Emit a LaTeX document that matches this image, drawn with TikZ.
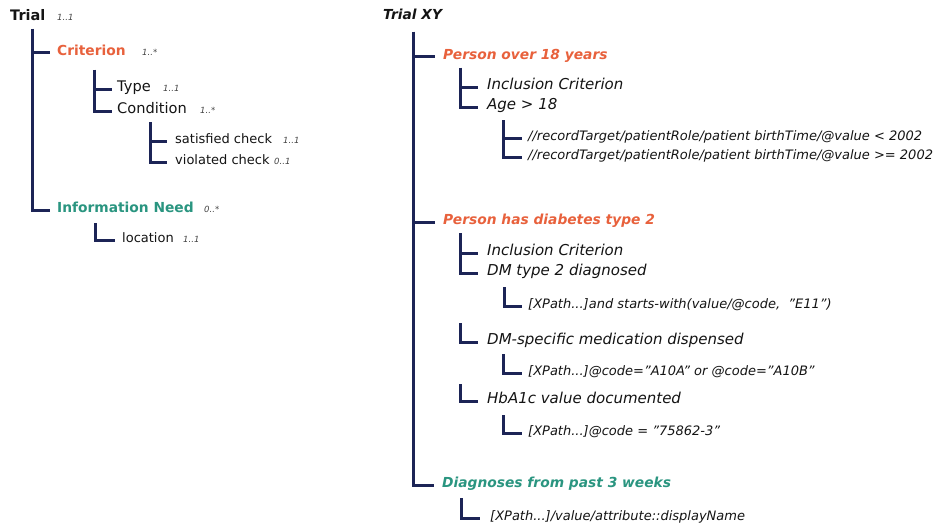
\documentclass[tikz,border=0pt]{standalone}
\usepackage{fontspec}
\setmainfont{DejaVu Sans}
\definecolor{navy}{HTML}{1C2456}
\definecolor{critc}{HTML}{E8613C}
\definecolor{infoc}{HTML}{2A9580}
\definecolor{txtc}{HTML}{141414}
\begin{document}
\begin{tikzpicture}[x=1pt,y=-1pt,
  lbl/.style={inner sep=0pt,anchor=mid west,text=txtc},
  mult/.style={inner sep=0pt,anchor=base west,text=txtc!80,font=\fontsize{8.5}{10}\selectfont\itshape},
  conn/.style={draw=navy,line width=3pt,line join=miter,shorten >=7pt},
  fbig/.style={font=\fontsize{14.5}{17}\selectfont\bfseries},
  fcrit/.style={font=\fontsize{13.8}{16}\selectfont\bfseries},
  fmid/.style={font=\fontsize{14.6}{17}\selectfont},
  fsmall/.style={font=\fontsize{13}{15}\selectfont},
  rbig/.style={font=\fontsize{13.8}{16}\selectfont\bfseries\itshape},
  rcrit/.style={font=\fontsize{13.8}{16}\selectfont\bfseries\itshape},
  rmid/.style={font=\fontsize{15}{17}\selectfont\itshape},
  rsmall/.style={font=\fontsize{13}{15}\selectfont\itshape}]
\path[use as bounding box,fill=white] (0,0) rectangle (950,527);

% ---------------- left tree ----------------
\node[lbl,fbig] (trial) at (10,18) {Trial};
\node[mult] (mtrial) at (trial.base -| 57,0) {1..1};
\coordinate (t0) at (32,29);
\node[lbl,fcrit,text=critc] (crit) at (57,53) {Criterion};
\node[mult] (mcrit) at (crit.base -| 142,0) {1..*};
\node[lbl,fcrit,text=infoc] (info) at (57,210) {Information Need};
\node[mult] (minfo) at (info.base -| 204,0) {0..*};
\draw[conn] (t0) |- (crit.mid west);
\draw[conn] (t0) |- (info.mid west);

\coordinate (c0) at (94,70);
\node[lbl,fmid] (type) at (117,89) {Type};
\node[mult] (mtype) at (type.base -| 163,0) {1..1};
\node[lbl,fmid] (cond) at (117,111) {Condition};
\node[mult] (mcond) at (cond.base -| 200,0) {1..*};
\draw[conn,shorten >=5pt] (c0) |- (type.mid west);
\draw[conn,shorten >=5pt] (c0) |- (cond.mid west);

\coordinate (d0) at (150,122);
\node[lbl,fsmall] (sat) at (175,141) {satisfied check};
\node[mult] (msat) at (sat.base -| 283,0) {1..1};
\node[lbl,fsmall] (viol) at (175,162) {violated check};
\node[mult] (mviol) at (viol.base -| 274,0) {0..1};
\draw[conn,shorten >=8pt] (d0) |- (sat.mid west);
\draw[conn,shorten >=8pt] (d0) |- (viol.mid west);

\coordinate (i0) at (95,223);
\node[lbl,fsmall] (loc) at (122,240) {location};
\node[mult] (mloc) at (loc.base -| 183,0) {1..1};
\draw[conn] (i0) |- (loc.mid west);

% ---------------- right tree ----------------
\node[lbl,rbig] (xy) at (383,17) {Trial XY};
\coordinate (r0) at (413,32);
\node[lbl,rcrit,text=critc] (p18) at (443,57) {Person over 18 years};
\node[lbl,rcrit,text=critc] (pdm) at (443,222) {Person has diabetes type 2};
\node[lbl,rcrit,text=infoc] (diag) at (442,485) {Diagnoses from past 3 weeks};
\draw[conn,shorten >=8pt] (r0) |- (p18.mid west);
\draw[conn,shorten >=8pt] (r0) |- (pdm.mid west);
\draw[conn,shorten >=8pt] (r0) |- (diag.mid west);

\coordinate (a0) at (460,68);
\node[lbl,rmid] (inc1) at (487,87) {Inclusion Criterion};
\node[lbl,rmid] (age) at (487,107) {Age > 18};
\draw[conn,shorten >=9pt] (a0) |- (inc1.mid west);
\draw[conn,shorten >=9pt] (a0) |- (age.mid west);

\coordinate (b0) at (503,120);
\node[lbl,rsmall] (xa) at (528,138) {//recordTarget/patientRole/patient birthTime/@value < 2002};
\node[lbl,rsmall] (xb) at (528,157) {//recordTarget/patientRole/patient birthTime/@value >= 2002};
\draw[conn,shorten >=6pt] (b0) |- (xa.mid west);
\draw[conn,shorten >=6pt] (b0) |- (xb.mid west);

\coordinate (e0) at (460,233);
\node[lbl,rmid] (inc2) at (487,253) {Inclusion Criterion};
\node[lbl,rmid] (dm2) at (487,273) {DM type 2 diagnosed};
\draw[conn,shorten >=9pt] (e0) |- (inc2.mid west);
\draw[conn,shorten >=9pt] (e0) |- (dm2.mid west);

\coordinate (f0) at (504,287);
\node[lbl,rsmall] (xe) at (528,306) {[XPath...]and starts-with(value/@code,~~"E11")};
\draw[conn,shorten >=6pt] (f0) |- (xe.mid west);

\coordinate (e1) at (460,323);
\node[lbl,rmid] (dms) at (487,342) {DM-specific medication dispensed};
\draw[conn,shorten >=9pt] (e1) |- (dms.mid west);

\coordinate (g0) at (503,354);
\node[lbl,rsmall] (xg) at (528,373) {[XPath...]@code="A10A" or @code="A10B"};
\draw[conn,shorten >=6pt] (g0) |- (xg.mid west);

\coordinate (e2) at (460,384);
\node[lbl,rmid] (hba) at (487,401) {HbA1c value documented};
\draw[conn,shorten >=9pt] (e2) |- (hba.mid west);

\coordinate (h0) at (503,415);
\node[lbl,rsmall] (xh) at (528,433) {[XPath...]@code = "75862-3"};
\draw[conn,shorten >=6pt] (h0) |- (xh.mid west);

\coordinate (k0) at (461,498);
\node[lbl,rsmall] (xk) at (490,518) {[XPath...]/value/attribute::displayName};
\draw[conn,shorten >=10pt] (k0) |- (xk.mid west);
\end{tikzpicture}
\end{document}
